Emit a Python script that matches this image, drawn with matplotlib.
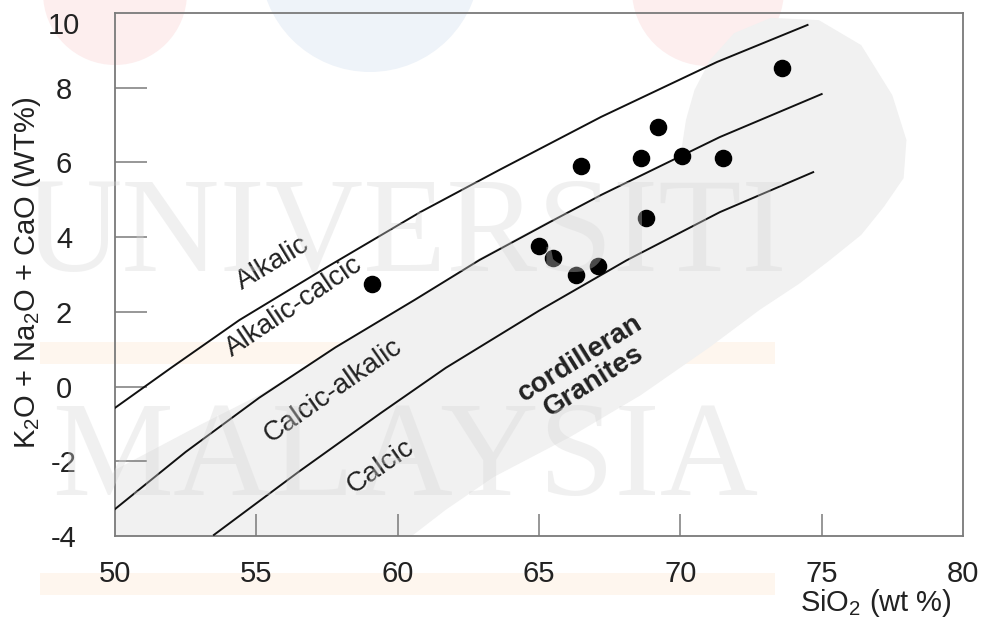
import matplotlib
matplotlib.use("Agg")
import matplotlib.pyplot as plt
from matplotlib.patches import Polygon, Ellipse, Rectangle
from matplotlib.transforms import ScaledTranslation

plt.rcParams['font.family'] = ['Liberation Sans', 'DejaVu Sans']
plt.rcParams['mathtext.fontset'] = 'custom'
plt.rcParams['mathtext.rm'] = 'Liberation Sans'
plt.rcParams['mathtext.it'] = 'Liberation Sans:italic'
plt.rcParams['mathtext.bf'] = 'Liberation Sans:bold'
plt.rcParams['axes.unicode_minus'] = False

# Vzorky granitů (SiO2 vs. K2O + Na2O + CaO)
sio2 = [59.1, 65.0, 65.5, 66.3, 67.1, 66.5, 68.6, 68.8, 69.2, 70.05, 71.5, 73.6]
alk = [2.75, 3.77, 3.45, 3.0, 3.22, 5.9, 6.12, 4.5, 6.95, 6.17, 6.12, 8.52]

# Hranice Peacockova dělení
alkalic_x = [50.0, 52.0, 54.4, 57.5, 60.8, 63.6, 67.2, 71.3, 74.5]
alkalic_y = [-0.57, 0.51, 1.78, 3.20, 4.67, 5.80, 7.22, 8.69, 9.68]
calc_alk_x = [50.0, 52.5, 55.1, 57.8, 60.6, 62.9, 65.4, 67.2, 71.4, 75.0]
calc_alk_y = [-3.28, -1.75, -0.30, 1.05, 2.32, 3.39, 4.41, 5.13, 6.68, 7.83]
calcic_x = [53.5, 56.5, 59.4, 61.7, 65.0, 68.1, 71.4, 74.7]
calcic_y = [-3.97, -2.28, -0.71, 0.50, 2.03, 3.38, 4.67, 5.74]

# Pole kordillerských granitů
field_x = [50.0, 50.0, 53.0, 55.1, 60.6, 62.9, 65.4, 67.9, 70.0, 70.2, 70.5,
           71.05, 71.9, 73.2, 74.9, 76.4, 77.5, 78.0, 77.9, 77.2, 76.4, 75.3,
           74.2, 72.8, 71.05, 68.6, 66.1, 63.4, 61.7, 60.5]
field_y = [-4.0, -2.23, -1.03, -0.23, 2.32, 3.44, 4.46, 5.37, 6.15, 7.14, 7.94,
           8.74, 9.46, 9.87, 9.81, 9.14, 7.80, 6.60, 5.58, 4.81, 4.06, 3.39,
           2.75, 2.05, 1.06, -0.23, -1.35, -2.42, -3.30, -4.0]

x_ticks = [50, 55, 60, 65, 70, 75, 80]
y_ticks = [-4, -2, 0, 2, 4, 6, 8, 10]

W, H = 986, 621
fig = plt.figure(figsize=(W / 100, H / 100), dpi=100)

# vodoznak na pozadí
for cx, cy, r, col in ((115, -7, 72, '#fdeeee'), (370, -38, 110, '#eef3f9'),
                       (708, -10, 76, '#fdeeee')):
    fig.add_artist(Ellipse((cx / W, 1 - cy / H), 2 * r / W, 2 * r / H,
                           transform=fig.transFigure, facecolor=col,
                           edgecolor='none', zorder=0))
for top in (342, 573):
    fig.add_artist(Rectangle((40 / W, 1 - (top + 22) / H), 735 / W, 22 / H,
                             transform=fig.transFigure, facecolor='#fef6ee',
                             edgecolor='none', zorder=0))

ax = fig.add_axes([115 / W, 1 - 536 / H, 848 / W, 523 / H])
ax.patch.set_alpha(0)

ax.add_patch(Polygon(list(zip(field_x, field_y)), closed=True,
                     facecolor='#f1f1f1', edgecolor='none', zorder=1))

for word, y0 in (('UNIVERSITI', 238), ('MALAYSIA', 462)):
    fig.text(405 / W, 1 - y0 / H, word, family=['Liberation Serif', 'DejaVu Serif'],
             fontsize=98, color='#d6d6d6', alpha=0.35, ha='center', va='center',
             zorder=1.5)

ax.plot(alkalic_x, alkalic_y, color='#111111', lw=1.4, zorder=3)
ax.plot(calc_alk_x, calc_alk_y, color='#111111', lw=1.4, zorder=3)
ax.plot(calcic_x, calcic_y, color='#111111', lw=1.4, zorder=3)

ax.scatter(sio2, alk, s=135, color='black', zorder=4)

lab = dict(fontsize=20, color='#222222', ha='center', va='center',
           rotation_mode='anchor', zorder=5)
ax.text(55.6, 3.3, 'Alkalic', rotation=31, **lab)
ax.text(56.35, 2.15, 'Alkalic-calcic', rotation=34, **lab)
ax.text(57.7, -0.1, 'Calcic-alkalic', rotation=35, **lab)
ax.text(59.4, -2.15, 'Calcic', rotation=35, **lab)
ax.text(66.7, 0.45, 'cordilleran\nGranites', rotation=32, fontweight='bold',
        multialignment='center', linespacing=1.0, **lab)

ax.set_xlim(50, 80)
ax.set_ylim(-4, 10)
ax.set_xticks(x_ticks)
ax.set_yticks(y_ticks)
for s in ax.spines.values():
    s.set_color('#7a7a7a')
    s.set_linewidth(1.3)

ax.tick_params(axis='y', direction='in', length=23, width=1.1, color='#7a7a7a',
               labelsize=21, labelcolor='#222222', pad=0)
ax.tick_params(axis='x', direction='in', length=16, width=1.1, color='#7a7a7a',
               labelsize=21, labelcolor='#222222', pad=17)
for t in ax.yaxis.get_major_ticks():
    t.label1.set_horizontalalignment('center')
    t.label1.set_transform(t.label1.get_transform() +
                           ScaledTranslation(-51 / 100, 0, fig.dpi_scale_trans))
ax.yaxis.get_major_ticks()[0].tick1line.set_visible(False)
ax.yaxis.get_major_ticks()[-1].tick1line.set_visible(False)
ax.xaxis.get_major_ticks()[0].tick1line.set_visible(False)
ax.xaxis.get_major_ticks()[-1].tick1line.set_visible(False)
top_lbl = ax.yaxis.get_major_ticks()[-1].label1
top_lbl.set_transform(top_lbl.get_transform() +
                      ScaledTranslation(0, -10 / 100, fig.dpi_scale_trans))

# krátké přesahy os v počátku
ax.set_xticks([50], minor=True)
ax.set_yticks([-4], minor=True)
ax.tick_params(which='minor', direction='out', length=9, width=1.3,
               color='#7a7a7a', labelleft=False, labelbottom=False)

fig.text(27 / W, 1 - 273 / H, 'K$_2$O + Na$_2$O + CaO (WT%)', rotation=90,
         fontsize=21, color='#222222', ha='center', va='center')
fig.text(952 / W, 1 - 603 / H, 'SiO$_2$ (wt %)', fontsize=21, color='#222222',
         ha='right', va='center')

fig.savefig('out.png', dpi=100)
